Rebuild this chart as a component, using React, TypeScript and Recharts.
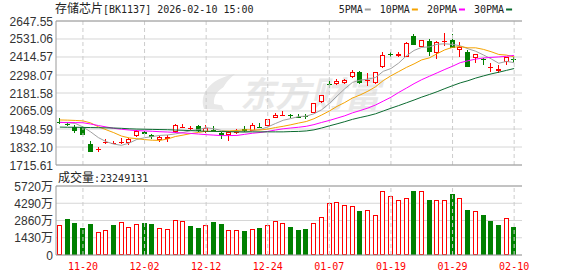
import React from "react";
import { ComposedChart, Bar, Line, XAxis, YAxis, CartesianGrid, ReferenceLine } from "recharts";

// 存储芯片 daily K-line, 2025-11-17 .. 2026-02-10
const dates = [
  "11-17", "11-18", "11-19", "11-20", "11-21", "11-24", "11-25", "11-26", "11-27", "11-28",
  "12-01", "12-02", "12-03", "12-04", "12-05", "12-08", "12-09", "12-10", "12-11", "12-12",
  "12-15", "12-16", "12-17", "12-18", "12-19", "12-22", "12-23", "12-24", "12-25", "12-26",
  "12-29", "12-30", "12-31", "01-05", "01-06", "01-07", "01-08", "01-09", "01-12", "01-13",
  "01-14", "01-15", "01-16", "01-19", "01-20", "01-21", "01-22", "01-23", "01-26", "01-27",
  "01-28", "01-29", "01-30", "02-02", "02-03", "02-04", "02-05", "02-06", "02-09", "02-10",
];

const opens = [
  1995.9, 1982.9, 1963.5, 1959.6, 1851.5, 1817.2, 1860.0, 1855.0, 1863.0, 1856.0,
  1903.3, 1927.0, 1911.7, 1877.4, 1883.9, 1927.2, 1957.0, 1953.0, 1970.0, 1929.0,
  1942.0, 1924.7, 1911.7, 1926.0, 1950.5, 1937.6, 1959.6, 1971.0, 2021.7, 2034.7,
  2036.0, 2024.3, 2034.6, 2050.0, 2121.4, 2239.9, 2239.9, 2244.4, 2281.9, 2319.5,
  2259.3, 2244.4, 2347.9, 2436.0, 2421.0, 2417.8, 2552.4, 2481.0, 2518.0, 2438.5,
  2511.7, 2524.6, 2458.0, 2449.0, 2406.0, 2401.6, 2345.0, 2324.0, 2380.3, 2399.7,
];
const highs = [
  2017.9, 1991.9, 1972.5, 1968.0, 1871.0, 1834.0, 1882.0, 1872.9, 1888.0, 1890.0,
  1942.0, 1934.0, 1918.0, 1903.0, 1907.8, 1981.0, 1981.0, 1968.0, 1974.0, 1974.0,
  1968.0, 1927.0, 1934.0, 1948.6, 1968.0, 1989.0, 1985.5, 2016.5, 2050.0, 2065.0,
  2045.7, 2043.7, 2045.7, 2117.0, 2170.0, 2259.0, 2272.0, 2274.0, 2330.5, 2321.0,
  2309.0, 2317.0, 2449.0, 2449.0, 2449.0, 2513.6, 2563.5, 2527.0, 2529.0, 2518.0,
  2568.0, 2563.5, 2511.7, 2460.0, 2436.0, 2406.0, 2373.8, 2362.8, 2413.0, 2412.6,
];
const lows = [
  1979.0, 1966.1, 1924.6, 1908.0, 1797.0, 1799.8, 1851.5, 1849.0, 1849.0, 1847.0,
  1895.0, 1912.0, 1882.0, 1862.5, 1866.0, 1924.7, 1955.0, 1942.0, 1931.0, 1925.0,
  1929.0, 1882.0, 1874.0, 1916.0, 1929.0, 1933.0, 1953.0, 1970.0, 2019.8, 2032.0,
  2020.0, 2020.0, 2015.0, 2049.0, 2120.0, 2214.0, 2236.0, 2238.0, 2280.0, 2240.0,
  2227.0, 2240.0, 2346.0, 2416.0, 2412.6, 2415.0, 2489.0, 2479.0, 2424.0, 2399.7,
  2485.8, 2472.0, 2416.5, 2350.0, 2375.8, 2362.8, 2319.5, 2309.0, 2366.0, 2380.0,
];
const closes = [
  1989.4, 1972.5, 1937.6, 1911.7, 1799.7, 1821.1, 1864.5, 1859.0, 1865.0, 1885.8,
  1937.6, 1916.0, 1898.8, 1898.8, 1896.8, 1972.5, 1963.5, 1957.0, 1935.7, 1958.3,
  1935.6, 1909.8, 1927.0, 1932.0, 1935.6, 1974.5, 1955.0, 2013.3, 2039.0, 2041.0,
  2029.5, 2021.7, 2029.5, 2114.9, 2168.7, 2233.4, 2261.0, 2265.7, 2319.5, 2244.4,
  2265.7, 2315.6, 2427.5, 2432.0, 2432.0, 2503.3, 2492.3, 2524.6, 2449.0, 2513.6,
  2518.0, 2474.8, 2481.0, 2351.8, 2434.0, 2397.0, 2350.0, 2337.0, 2411.4, 2393.0,
];

// 成交量, in 万
const volumes = [
  2459, 2984, 2653, 2238, 2570, 1879, 2045, 2487, 2708, 2294,
  2542, 2653, 2570, 2211, 2128, 2874, 2791, 2404, 2238, 2459,
  2736, 2570, 2045, 2045, 1990, 2128, 2238, 2459, 2791, 2625,
  2335, 2073, 2155, 2625, 3150, 4283, 4366, 4117, 4035, 3648,
  3703, 3288, 5278, 4863, 4532, 4698, 5306, 5278, 4560, 4532,
  4532, 5057, 4698, 3731, 3620, 3316, 2819, 2487, 3040, 2324.9131,
];
// 1 = red (up) volume bar, 0 = green
const volumeUp = [
  1, 0, 0, 0, 0, 1, 1, 0, 1, 1,
  1, 0, 0, 1, 1, 1, 1, 0, 0, 1,
  0, 0, 1, 1, 0, 1, 0, 1, 1, 1,
  0, 0, 0, 1, 1, 1, 1, 1, 1, 0,
  1, 1, 1, 1, 1, 1, 0, 1, 0, 1,
  1, 0, 1, 0, 1, 0, 0, 0, 1, 0,
];

const ma5 = [
  1992, 1989, 1985, 1962, 1930, 1893, 1867, 1851, 1843, 1857,
  1881, 1892, 1900, 1907, 1910, 1917, 1926, 1938, 1945, 1957,
  1950, 1939, 1933, 1932, 1928, 1936, 1945, 1962, 1984, 2005,
  2016, 2029, 2032, 2047, 2073, 2114, 2162, 2209, 2250, 2265,
  2271, 2282, 2322, 2340, 2375, 2422, 2457, 2477, 2480, 2497,
  2500, 2496, 2487, 2468, 2452, 2428, 2403, 2374, 2386, 2378,
];
const ma10 = [
  2007, 2006, 2004, 2001, 1988, 1963, 1944, 1925, 1903, 1891,
  1886, 1880, 1876, 1875, 1884, 1900, 1909, 1919, 1926, 1934,
  1933, 1933, 1936, 1939, 1943, 1943, 1942, 1948, 1958, 1966,
  1976, 1987, 1997, 2015, 2039, 2065, 2095, 2120, 2149, 2169,
  2193, 2222, 2262, 2293, 2320, 2347, 2370, 2396, 2409, 2436,
  2461, 2477, 2482, 2474, 2474, 2464, 2449, 2431, 2427, 2415,
];
const ma20 = [
  1991, 1991, 1990, 1989, 1981, 1971, 1962, 1953, 1947, 1942,
  1938, 1936, 1934, 1931, 1929, 1926, 1923, 1920, 1916, 1912,
  1909, 1906, 1906, 1907, 1914, 1921, 1926, 1933, 1942, 1950,
  1955, 1960, 1966, 1977, 1991, 2004, 2019, 2034, 2053, 2068,
  2084, 2104, 2129, 2154, 2185, 2213, 2242, 2268, 2290, 2312,
  2334, 2355, 2378, 2390, 2401, 2408, 2412, 2415, 2419, 2425,
];
const ma30 = [
  1961, 1960, 1960, 1959, 1958, 1957, 1956, 1955, 1953, 1950,
  1948, 1947, 1946, 1945, 1944, 1942, 1940, 1938, 1936, 1934,
  1933, 1932, 1931, 1930, 1930, 1930, 1930, 1930, 1930, 1930,
  1932, 1933, 1936, 1943, 1955, 1969, 1982, 1996, 2011, 2023,
  2034, 2047, 2065, 2083, 2100, 2118, 2136, 2155, 2172, 2190,
  2210, 2229, 2247, 2261, 2278, 2292, 2305, 2316, 2328, 2340,
];

const priceTicks = [1715.61, 1832.10, 1948.59, 2065.09, 2181.58, 2298.07, 2414.57, 2531.06, 2647.55];
const volumeTicks = [0, 1430, 2860, 4290, 5720];
const dateLabels = ["11-20", "12-02", "12-12", "12-24", "01-07", "01-19", "01-29", "02-10"];
const maNames = ["5PMA", "10PMA", "20PMA", "30PMA"];
const maKeys = ["ma5", "ma10", "ma20", "ma30"];
const maColors = ["#a0a0a0", "#f5a300", "#ff00ff", "#0b6b30"];
const titleName = "存储芯片";
const titleRest = "[BK1137] 2026-02-10 15:00";
const lastVolume = 23249131;

const RED = "#ff0000";
const GREEN = "#008000";
const GRID = "#d6d6d6";
const BORDER = "#9a9a9a";
const DASH = "#cccccc";
const MONO = "'DejaVu Sans Mono', monospace";
const SANS = "'Liberation Sans', Arial, 'Noto Sans CJK SC', sans-serif";

const data = dates.map((d, i) => ({
  date: d,
  range: [lows[i], highs[i]],
  open: opens[i],
  high: highs[i],
  low: lows[i],
  close: closes[i],
  volume: volumes[i],
  up: volumeUp[i],
  ma5: ma5[i],
  ma10: ma10[i],
  ma20: ma20[i],
  ma30: ma30[i],
}));

const Candle = (props: any) => {
  const { x, y, width, height, index } = props;
  const p = props.payload ?? data[index];
  const top0 = Math.min(y, y + height);
  const k = Math.abs(height) / (p.high - p.low);
  const py = (v: number) => top0 + (p.high - v) * k;
  const up = p.close >= p.open;
  const color = up ? RED : GREEN;
  const bx = Math.round(x + width / 2 - 2.5);
  const cx = bx + 2.5;
  const top = Math.round(py(Math.max(p.open, p.close)));
  const bot = Math.round(py(Math.min(p.open, p.close)));
  const hy = Math.round(py(p.high));
  const ly = Math.round(py(p.low));

  if (bot - top <= 1) {
    return (
      <g>
        <line x1={cx} x2={cx} y1={hy} y2={ly} stroke={color} />
        <line x1={bx} x2={bx + 5} y1={top + 0.5} y2={top + 0.5} stroke={color} />
      </g>
    );
  }
  if (up) {
    return (
      <g>
        <line x1={cx} x2={cx} y1={hy} y2={top} stroke={color} />
        <line x1={cx} x2={cx} y1={bot} y2={ly} stroke={color} />
        <rect x={bx + 0.5} y={top + 0.5} width={4} height={bot - top - 1} fill="#fff" stroke={color} />
      </g>
    );
  }
  return (
    <g>
      <line x1={cx} x2={cx} y1={hy} y2={ly} stroke={color} />
      <rect x={bx} y={top} width={5} height={bot - top} fill={color} />
    </g>
  );
};

const VolumeBar = (props: any) => {
  const { x, y, width, height, index } = props;
  const p = props.payload ?? data[index];
  const bx = Math.round(x + width / 2 - 2.5);
  const top = Math.round(Math.min(y, y + height));
  const bot = Math.round(Math.max(y, y + height));
  if (p.up) {
    return <rect x={bx + 0.5} y={top + 0.5} width={4} height={bot - top - 1} fill="#fff" stroke={RED} />;
  }
  return <rect x={bx} y={top} width={5} height={bot - top} fill={GREEN} />;
};

const PriceTick = (props: any) => (
  <text x={53} y={props.y + 4.5} textAnchor="end" fontFamily={SANS} fontSize={12} fill="#333">
    {Number(props.payload.value).toFixed(2)}
  </text>
);

const VolumeTick = (props: any) => (
  <text x={53} y={props.y + 4.5} textAnchor="end" fontFamily={SANS} fontSize={12} fill="#333">
    {props.payload.value === 0 ? "0" : `${props.payload.value}万`}
  </text>
);

// the volume chart starts at page y 170; labels sit on baseline y 270 of the page
const DateTick = (props: any) => {
  if (!dateLabels.includes(props.payload.value)) return <g />;
  return (
    <text x={props.x} y={100} textAnchor="middle" fontFamily={MONO} fontSize={10} fill={RED}>
      {props.payload.value}
    </text>
  );
};

const Legend = () => {
  let cx = 338.7;
  return (
    <g>
      {maNames.map((n, i) => {
        const tx = cx;
        const w = n.length * 6.02;
        cx += w + 2 + 6 + 9;
        return (
          <g key={n}>
            <text x={tx} y={12.5} fontFamily={MONO} fontSize={10} fill="#222">{n}</text>
            <rect x={tx + w + 2} y={8.5} width={6} height={2} fill={maColors[i]} />
          </g>
        );
      })}
    </g>
  );
};

export default function App() {
  return (
    <div style={{ position: "absolute", left: 0, top: 0, width: 578, height: 276, background: "#fff" }}>
      {/* watermark + headings */}
      <svg width={578} height={276} style={{ position: "absolute", left: 0, top: 0 }}>
        <path d="M204 109 C199 93 210 79 235 74 C222 84 217 97 224 110 Z" fill="#e8e8e8" />
        <path d="M214 104 C213 95 219 88 229 85 C223 92 222 99 226 106 Z" fill="#fff" />
        <text x={240} y={107} fontFamily="'Noto Sans CJK SC'" fontWeight="bold" fontStyle="italic" fontSize={35} fill="#e8e8e8">
          东方财富
        </text>
        <text x={55} y={12.5} fill="#222">
          <tspan fontFamily="'Noto Sans CJK SC'" fontSize={12}>{titleName}</tspan>
          <tspan fontFamily={MONO} fontSize={10}>{titleRest}</tspan>
        </text>
        <Legend />
        <text x={58} y={181.5} fill="#222">
          <tspan fontFamily="'Noto Sans CJK SC'" fontSize={12}>成交量</tspan>
          <tspan fontFamily={MONO} fontSize={10}>:{lastVolume}</tspan>
        </text>
      </svg>

      <div style={{ position: "absolute", left: 0, top: 0 }}>
        <ComposedChart width={578} height={176} data={data} margin={{ top: 21, right: 56, bottom: 11, left: 0 }}>
          <CartesianGrid vertical={false} stroke={GRID} />
          <XAxis dataKey="date" hide padding={{ left: 0, right: 4 }} />
          <YAxis
            domain={[1715.61, 2647.55]}
            ticks={priceTicks}
            interval={0}
            width={56}
            allowDataOverflow
            tickLine={false}
            axisLine={{ stroke: BORDER }}
            tick={PriceTick}
          />
          <YAxis yAxisId="r" orientation="right" width={0} domain={[1715.61, 2647.55]} tick={false} tickLine={false} axisLine={{ stroke: BORDER }} />
          {dateLabels.map((d) => (
            <ReferenceLine key={d} x={d} stroke={DASH} strokeDasharray="4 3" />
          ))}
          <ReferenceLine y={2647.55} stroke={BORDER} />
          <ReferenceLine y={1715.61} stroke={BORDER} />
          <Bar dataKey="range" barSize={5} shape={Candle} isAnimationActive={false} />
          {maKeys.map((k, i) => (
            <Line key={k} dataKey={k} type="linear" stroke={maColors[i]} strokeWidth={1} dot={false} activeDot={false} isAnimationActive={false} />
          ))}
        </ComposedChart>
      </div>

      <div style={{ position: "absolute", left: 0, top: 170 }}>
        <ComposedChart width={578} height={106} data={data} margin={{ top: 16, right: 56, bottom: 0, left: 0 }}>
          <CartesianGrid vertical={false} stroke={GRID} />
          <XAxis
            dataKey="date"
            height={21}
            interval={0}
            padding={{ left: 0, right: 4 }}
            tickLine={false}
            axisLine={{ stroke: BORDER }}
            tick={DateTick}
          />
          <YAxis domain={[0, 5720]} ticks={volumeTicks} interval={0} width={56} tickLine={false} axisLine={{ stroke: BORDER }} tick={VolumeTick} />
          <YAxis yAxisId="r" orientation="right" width={0} domain={[0, 5720]} tick={false} tickLine={false} axisLine={{ stroke: BORDER }} />
          {dateLabels.map((d) => (
            <ReferenceLine key={d} x={d} stroke={DASH} strokeDasharray="4 3" />
          ))}
          <ReferenceLine y={5720} stroke={BORDER} />
          <Bar dataKey="volume" barSize={5} shape={VolumeBar} isAnimationActive={false} />
        </ComposedChart>
      </div>
    </div>
  );
}
